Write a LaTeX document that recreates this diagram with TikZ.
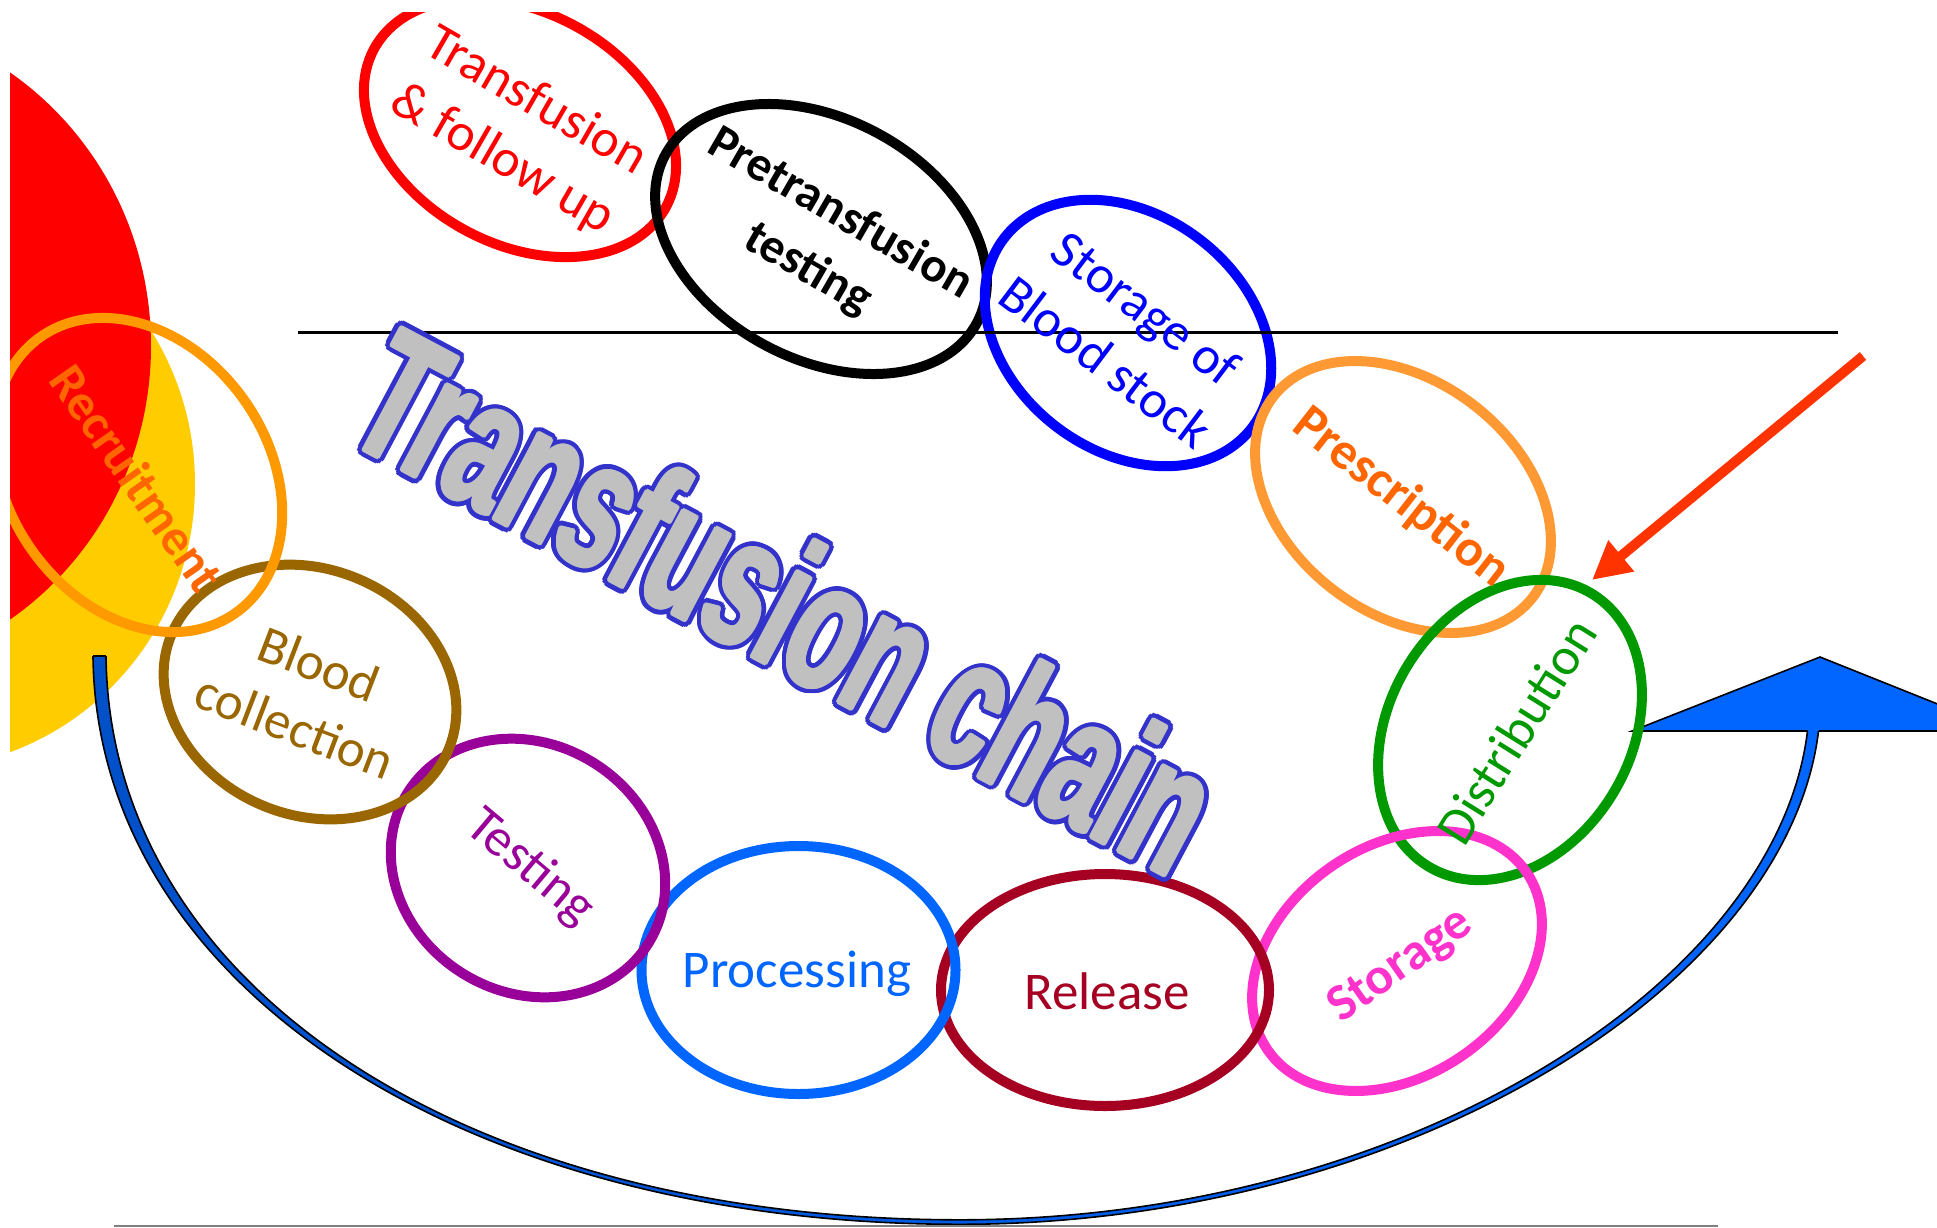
\documentclass[tikz,border=0pt]{standalone}
\usepackage{fontspec}
\usepackage{graphicx}
\setmainfont{Carlito}
\newfontfamily\wafont{Liberation Sans}
\usetikzlibrary{arrows.meta,calc}
\definecolor{bgred}{HTML}{FF0000}
\definecolor{bgyellow}{HTML}{FFCC00}
\definecolor{cRed}{HTML}{FF0000}
\definecolor{cBlue}{HTML}{0000FF}
\definecolor{cPresRing}{HTML}{FF9933}
\definecolor{cOrangeTxt}{HTML}{FF6600}
\definecolor{cGreen}{HTML}{009900}
\definecolor{cPink}{HTML}{FF33CC}
\definecolor{cRelease}{HTML}{A50021}
\definecolor{cProc}{HTML}{0066FF}
\definecolor{cTest}{HTML}{990099}
\definecolor{cBrown}{HTML}{996600}
\definecolor{cRecRing}{HTML}{FF9900}
\definecolor{waFill}{HTML}{C0C0C0}
\definecolor{waOut}{HTML}{3333CC}
\definecolor{arrowRed}{HTML}{FF3300}
\definecolor{bandL}{HTML}{0050C8}
\definecolor{bandR}{HTML}{0066FF}
\definecolor{triBlue}{HTML}{0066FF}
\definecolor{baseGray}{HTML}{808080}
\begin{document}
\begin{tikzpicture}[x=1pt,y=-1pt,
  ring/.style={line width=10pt},
  lbl/.style={font=\fontsize{53}{67}\selectfont, align=center, inner sep=0pt},
  lblb/.style={font=\fontsize{52}{66}\selectfont\bfseries, align=center, inner sep=0pt},
  wa/.style={font=\wafont\bfseries\fontsize{183}{190}\selectfont, inner sep=0pt, rotate=-28},
  bandedge/.style={draw=black, line width=1.6pt}
]
\useasboundingbox (0,0) rectangle (1937,1227);
\fill[white] (0,0) rectangle (1937,1227);
\begin{scope}
\clip (10,12) rectangle (1937,1227);

% background discs
\fill[bgyellow] (-85,484) ellipse [x radius=280, y radius=285];
\fill[bgred] (-169,346) ellipse [x radius=320, y radius=330];

% curved band
\shade[left color=bandL, right color=bandR]
  (93,656) .. controls (96.5,984) and (461,1224.3) .. (960,1224.3)
  .. controls (1404,1224.3) and (1787.5,987) .. (1818.5,731)
  -- (1807.5,731)
  .. controls (1776.5,985) and (1404,1219.8) .. (960,1219.8)
  .. controls (461,1219.8) and (109.5,984) .. (106,656) -- cycle;
\draw[bandedge] (93,656) .. controls (96.5,984) and (461,1224.3) .. (960,1224.3)
  .. controls (1404,1224.3) and (1787.5,987) .. (1818.5,731);
\draw[bandedge] (1807.5,731)
  .. controls (1776.5,985) and (1404,1219.8) .. (960,1219.8)
  .. controls (461,1219.8) and (109.5,984) .. (106,656);
\draw[bandedge] (93,656) -- (106,656);

% arrow head of the band
\coordinate (tl) at (1632,731);
\coordinate (tp) at (1820,657);
\coordinate (tr) at (2005,731);
\coordinate (bi) at (1807.5,731);
\coordinate (bo) at (1818.5,731);
\fill[triBlue] (tl) -- (tp) -- (tr) -- cycle;
\draw[bandedge, line join=miter] (bi) -- (tl) -- (tp) -- (tr) -- (bo);

% bottom grey line
\coordinate (g1) at (114,1226);
\coordinate (g2) at (1718,1226);
\draw[baseGray, line width=2.5pt] (g1) -- (g2);

% rings
\draw[ring, cRed, rotate around={-28.5:(520,128)}] (520,128) ellipse [x radius=166, y radius=116];
\draw[ring, black, rotate around={-28.4:(821,239)}] (821,239) ellipse [x radius=177, y radius=120];
\draw[ring, cBlue, rotate around={-37.3:(1128,333)}] (1128,333) ellipse [x radius=156, y radius=118];
\draw[ring, cPresRing, rotate around={-37.7:(1403,497)}] (1403,497) ellipse [x radius=164, y radius=116];
\draw[ring, cGreen, rotate around={59.4:(1510,730)}] (1510,730) ellipse [x radius=159, y radius=121];
\draw[ring, cPink, rotate around={34.5:(1397,961)}] (1397,961) ellipse [x radius=157, y radius=115];
\draw[ring, cRelease] (1105,990) ellipse [x radius=164, y radius=116];
\draw[ring, cProc] (798.5,970) ellipse [x radius=157, y radius=124];
\draw[ring, cTest, rotate around={-32:(528,868)}] (528,868) ellipse [x radius=142, y radius=124];
\draw[ring, cBrown, rotate around={-22.6:(310,692)}] (310,692) ellipse [x radius=150, y radius=123];
\draw[ring, cRecRing, rotate around={-54.7:(138,475)}] (138,475) ellipse [x radius=169, y radius=130];

% horizontal line
\coordinate (h1) at (298,332);
\coordinate (h2) at (1838,332);
\draw[black, line width=3pt] (h1) -- (h2);

% word art
\coordinate (wac) at (787,601);
\foreach \a [count=\k] in {0,15,...,345} {
  \node[wa, text=waOut] (wao\k) at ($(wac)+(\a:6.5)$) {\scalebox{0.6}[1]{Transfusion chain}};
}
\foreach \a [count=\k] in {0,30,...,330} {
  \node[wa, text=waFill] (wai\k) at ($(wac)+(\a:2)$) {\scalebox{0.6}[1]{Transfusion chain}};
}
\node[wa, text=waFill] (wa) at (wac) {\scalebox{0.6}[1]{Transfusion chain}};

% red arrow
\coordinate (rt) at (1863,356);
\coordinate (rh) at (1592,580);
\draw[arrowRed, line width=10pt, -{Triangle[length=38pt,width=38pt]}] (rt) -- (rh);

% labels
\node[lbl, text=cRed, rotate=-30] (t1) at (519,131) {Transfusion\\\& follow up};
\node[lblb, text=black, rotate=-30, font=\fontsize{49}{64}\selectfont\bfseries] (t2) at (824,242) {Pretransfusion\\testing};
\node[lbl, text=cBlue, rotate=-37] (t3) at (1126,335) {Storage of\\Blood stock};
\node[lblb, text=cOrangeTxt, rotate=-38] (t4) at (1401,498) {Prescription};
\node[lbl, text=cGreen, rotate=58] (t5) at (1516,731) {Distribution};
\node[lblb, text=cPink, rotate=35] (t6) at (1401,966) {Storage};
\node[lbl, text=cRelease, anchor=base] (t7) at (1107,1009) {Release};
\node[lbl, text=cProc, anchor=base] (t8) at (797,987) {Processing};
\node[lbl, text=cTest, rotate=-40] (t9) at (530,868) {Testing};
\node[lbl, text=cBrown, rotate=-21] (t10) at (307,695) {Blood\\collection};
\node[lblb, text=cOrangeTxt, rotate=-55, font=\fontsize{51}{66}\selectfont\bfseries] (t11) at (137,478) {Recruitment};
\end{scope}
\end{tikzpicture}
\end{document}
